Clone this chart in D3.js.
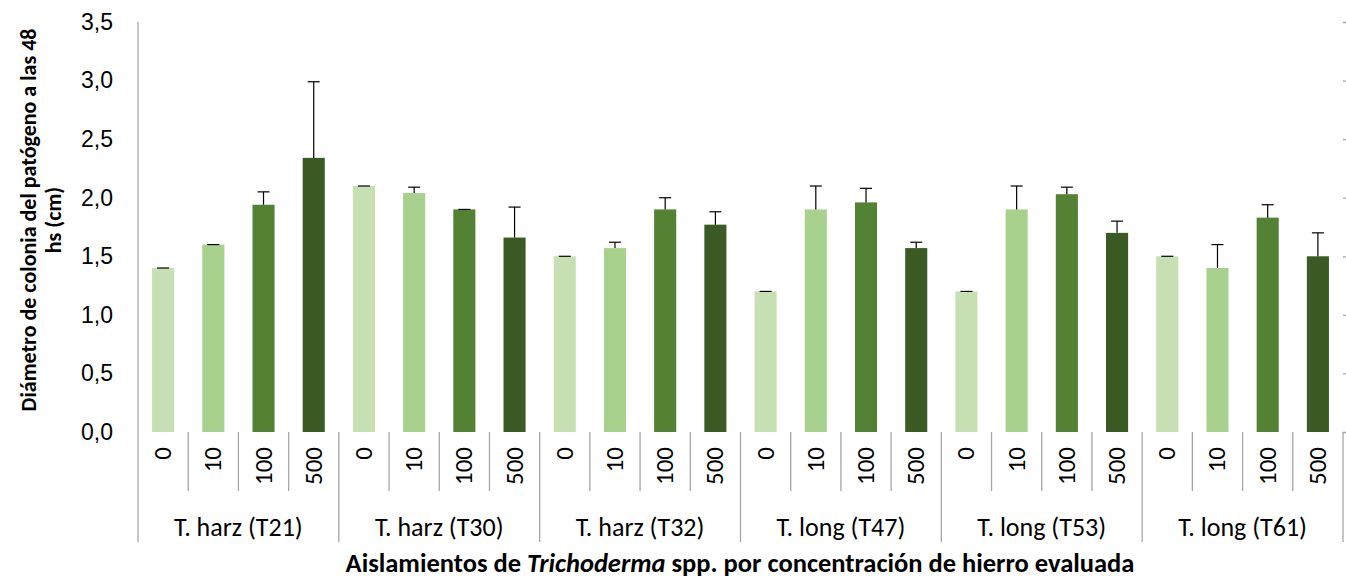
<!DOCTYPE html>
<html>
<head>
<meta charset="utf-8">
<script src="https://cdn.jsdelivr.net/npm/d3@7"></script>
<style>
  body { margin: 0; background: #fff; }
  svg { display: block; font-family: Carlito, Lato, "Open Sans", sans-serif; }
</style>
</head>
<body>
<svg id="chart" width="1346" height="583"></svg>
<script>
// isolates and iron concentrations
var groups = ["T. harz (T21)", "T. harz (T30)", "T. harz (T32)", "T. long (T47)", "T. long (T53)", "T. long (T61)"];
var concs = ["0", "10", "100", "500"];

// mean diameter per isolate (rows) and concentration (columns)
var means = [
  [1.40, 1.60, 1.94, 2.34],
  [2.10, 2.04, 1.90, 1.66],
  [1.50, 1.57, 1.90, 1.77],
  [1.20, 1.90, 1.96, 1.57],
  [1.20, 1.90, 2.03, 1.70],
  [1.50, 1.40, 1.83, 1.50]
];
// upper error bar length
var errs = [
  [0.00, 0.00, 0.11, 0.65],
  [0.00, 0.05, 0.00, 0.26],
  [0.00, 0.05, 0.10, 0.11],
  [0.00, 0.20, 0.12, 0.05],
  [0.00, 0.20, 0.06, 0.10],
  [0.00, 0.20, 0.11, 0.20]
];
var yTicks = [0, 0.5, 1, 1.5, 2, 2.5, 3, 3.5];
var colors = ["#c6e0b4", "#a9d18e", "#548235", "#3b5a24"];

function drawChart() {
  var svg = d3.select("#chart");
  var mLeft = 138, mRight = 1343, mTop = 22, mBottom = 432;
  var grey = "#a6a6a6";

  // flatten into one row per bar
  var rows = [];
  groups.forEach(function(g, gi) {
    concs.forEach(function(c, ci) {
      rows.push({ key: gi + "|" + c, group: g, conc: c, ci: ci, value: means[gi][ci], err: errs[gi][ci] });
    });
  });

  var x = d3.scaleBand()
      .domain(rows.map(function(d) { return d.key; }))
      .range([mLeft, mRight])
      .paddingInner(0.56)
      .paddingOuter(0.28);

  var xg = d3.scaleBand().domain(groups).range([mLeft, mRight]);

  var y = d3.scaleLinear().domain([0, 3.5]).range([mBottom, mTop]);

  // gridlines + y labels
  var yAxis = d3.axisLeft(y)
      .tickValues(yTicks)
      .tickSize(-(mRight - mLeft) - 7)
      .tickPadding(0)
      .tickFormat(function(d) { return d3.format(".1f")(d).replace(".", ","); });

  var gy = svg.append("g")
      .attr("transform", "translate(" + mRight + ",0)")
      .call(yAxis);
  gy.select(".domain").remove();
  gy.selectAll(".tick line").attr("stroke", grey).attr("stroke-width", 1.3);
  gy.selectAll(".tick text")
      .attr("x", -(mRight - mLeft) - 25)
      .attr("font-size", 23)
      .attr("fill", "#000");

  // bars
  svg.append("g").selectAll("rect")
      .data(rows)
    .enter().append("rect")
      .attr("x", function(d) { return x(d.key); })
      .attr("y", function(d) { return y(d.value); })
      .attr("width", x.bandwidth())
      .attr("height", function(d) { return mBottom - y(d.value); })
      .attr("fill", function(d) { return colors[d.ci]; });

  // error bars (upper only)
  var eb = svg.append("g").selectAll("g")
      .data(rows)
    .enter().append("g")
      .attr("stroke", "#000").attr("stroke-width", 1.2);
  eb.append("line")
      .attr("x1", function(d) { return x(d.key) + x.bandwidth() / 2; })
      .attr("x2", function(d) { return x(d.key) + x.bandwidth() / 2; })
      .attr("y1", function(d) { return y(d.value); })
      .attr("y2", function(d) { return y(d.value + d.err); });
  eb.append("line")
      .attr("x1", function(d) { return x(d.key) + x.bandwidth() / 2 - 6; })
      .attr("x2", function(d) { return x(d.key) + x.bandwidth() / 2 + 6; })
      .attr("y1", function(d) { return y(d.value + d.err); })
      .attr("y2", function(d) { return y(d.value + d.err); });

  // vertical axis line, running down through the category label area
  svg.append("line")
      .attr("x1", mLeft).attr("x2", mLeft)
      .attr("y1", mTop).attr("y2", 542)
      .attr("stroke", grey).attr("stroke-width", 1.3);

  // separators between bars and between groups
  var step = x.step();
  svg.append("g").selectAll("line")
      .data(rows)
    .enter().append("line")
      .attr("x1", function(d, i) { return mLeft + step * (i + 1); })
      .attr("x2", function(d, i) { return mLeft + step * (i + 1); })
      .attr("y1", mBottom)
      .attr("y2", function(d) { return d.ci === 3 ? 542 : 491; })
      .attr("stroke", grey).attr("stroke-width", 1.3);

  // concentration labels, rotated
  svg.append("g").selectAll("text")
      .data(rows)
    .enter().append("text")
      .attr("transform", function(d) {
        return "translate(" + (x(d.key) + x.bandwidth() / 2 + 8) + ",447) rotate(-90)";
      })
      .attr("text-anchor", "end")
      .attr("font-size", 25)
      .text(function(d) { return d.conc; });

  // isolate labels
  svg.append("g").selectAll("text")
      .data(groups)
    .enter().append("text")
      .attr("x", function(d) { return xg(d) + xg.bandwidth() / 2; })
      .attr("y", 536)
      .attr("text-anchor", "middle")
      .attr("font-size", 26)
      .text(function(d) { return d; });

  // axis titles
  var xt = svg.append("text")
      .attr("x", 740).attr("y", 572)
      .attr("text-anchor", "middle")
      .attr("font-size", 26.5)
      .attr("font-weight", "bold");
  xt.append("tspan").text("Aislamientos de ");
  xt.append("tspan").attr("font-style", "italic").text("Trichoderma");
  xt.append("tspan").text(" spp. por concentración de hierro evaluada");

  var yt = svg.append("text")
      .attr("transform", "translate(0,220) rotate(-90)")
      .attr("text-anchor", "middle")
      .attr("font-size", 22)
      .attr("font-weight", "bold");
  yt.append("tspan").attr("x", 0).attr("y", 36).text("Diámetro de colonia del patógeno a las 48");
  yt.append("tspan").attr("x", 0).attr("y", 61).text("hs (cm)");
}

drawChart();
</script>
</body>
</html>
